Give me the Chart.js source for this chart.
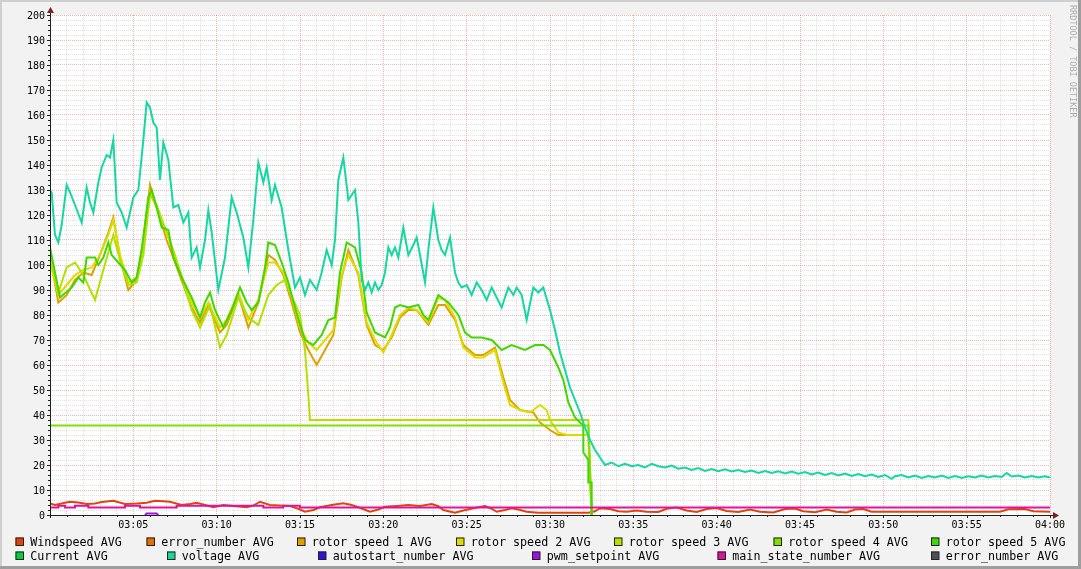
<!DOCTYPE html>
<html>
<head>
<meta charset="utf-8">
<script src="https://cdn.jsdelivr.net/npm/chart.js@4.4.0/dist/chart.umd.min.js"></script>
<style>
html,body{margin:0;padding:0;background:#f2f2f2;}
canvas{display:block;}
</style>
</head>
<body>
<canvas id="c" width="1081" height="569"></canvas>
<script>
// ---- DATA: each series is a list of [minutes after 03:00, value] ----
const xTickMinutes = [5,10,15,20,25,30,35,40,45,50,55,60];
const xTickLabels = ['03:05','03:10','03:15','03:20','03:25','03:30','03:35','03:40','03:45','03:50','03:55','04:00'];
const yTickValues = [0,10,20,30,40,50,60,70,80,90,100,110,120,130,140,150,160,170,180,190,200];
const yTickLabels = ['0','10','20','30','40','50','60','70','80','90','100','110','120','130','140','150','160','170','180','190','200'];

const seriesNames = ['Windspeed AVG','error_number AVG','rotor speed 1 AVG','rotor speed 2 AVG','rotor speed 3 AVG','rotor speed 4 AVG','rotor speed 5 AVG','Current AVG','voltage AVG','autostart_number AVG','pwm_setpoint AVG','main_state_number AVG','error_number AVG'];

const windspeed = [[0,4.6],[0.3,4.0],[0.9,4.9],[1.2,5.3],[1.7,5.0],[2.2,4.4],[2.7,4.6],[3.1,5.2],[3.8,5.7],[4.5,4.4],[5.2,4.6],[5.8,4.9],[6.3,5.7],[6.8,5.5],[7.2,5.3],[7.9,4.0],[8.4,4.4],[8.8,4.9],[9.3,4.0],[9.8,3.1],[10.4,4.0],[11.0,3.6],[11.8,3.1],[12.2,3.8],[12.6,5.3],[13.2,4.0],[13.8,3.8],[14.4,3.6],[14.9,2.5],[15.3,1.3],[15.8,2.0],[16.2,3.1],[16.9,4.0],[17.6,4.7],[18.1,4.0],[18.5,3.1],[19.2,1.3],[19.7,2.2],[20.1,3.3],[20.8,3.6],[21.5,4.0],[22.2,3.6],[22.9,4.4],[23.3,3.5],[23.6,2.0],[24.3,0.9],[24.8,1.8],[25.4,2.7],[26.1,3.6],[26.5,2.5],[26.8,1.3],[27.3,2.0],[27.7,2.7],[28.1,2.2],[28.6,1.3],[29.3,0.9],[32.3,0.9],[32.7,1.5],[33.0,2.7],[33.6,2.4],[34.1,1.5],[34.6,1.3],[35.2,1.8],[35.8,1.3],[36.5,1.2],[37.0,2.5],[37.6,3.0],[38.2,1.8],[38.8,1.2],[39.4,2.4],[40.0,2.8],[40.6,1.6],[41.3,1.2],[42.0,2.2],[42.6,1.3],[43.4,1.0],[44.1,2.4],[44.7,2.6],[45.2,1.5],[45.9,1.1],[46.6,2.2],[47.2,1.3],[47.8,1.0],[48.3,2.2],[48.8,2.4],[49.3,1.3],[57.0,1.3],[57.5,2.3],[58.5,2.4],[59.0,1.5],[60,1.3]];

const errorNumber = [];

const rotor1 = [[0,104],[0.5,85],[1.0,88],[1.5,94],[2.0,97],[2.5,96],[3.0,104],[3.5,113],[3.8,119],[4.2,103],[4.7,90],[5.2,94],[5.6,110],[6.0,132],[6.4,123],[7.0,110],[7.5,101],[8.0,92],[8.5,83],[9.0,77],[9.5,84],[10.2,73],[10.6,76],[11.3,88],[11.9,75],[12.5,85],[13.1,104],[13.5,102],[14.0,96],[14.5,85],[15.0,73],[15.5,66],[16.0,60],[16.5,66],[17.0,72],[17.5,95],[17.9,106],[18.5,96],[19.0,76],[19.5,68],[20.0,66],[20.5,71],[21.0,79],[21.5,82],[22.0,82],[22.7,76],[23.3,84],[23.7,84],[24.3,78],[24.8,68],[25.5,64],[26.0,64],[26.7,67],[27.2,55],[27.6,46],[28.2,42],[29.0,41],[29.4,37],[30.0,34],[30.5,32],[32.3,32],[32.5,0]];

const rotor2 = [[0,101],[0.5,88],[1.0,92],[1.5,96],[2.0,98],[2.5,99],[3.0,104],[3.5,112],[3.8,118],[4.2,104],[4.7,93],[5.2,95],[5.6,108],[6.0,129],[6.4,123],[7.0,113],[7.5,103],[8.0,94],[8.5,85],[9.0,79],[9.5,85],[10.2,75],[10.6,78],[11.3,89],[11.9,78],[12.5,86],[13.1,101],[13.5,101],[14.0,97],[14.5,87],[15.0,75],[15.5,69],[16.0,66],[16.5,70],[17.0,74],[17.5,96],[17.9,104],[18.5,97],[19.0,77],[19.5,70],[20.0,65],[20.5,72],[21.0,80],[21.5,83],[22.0,82],[22.7,77],[23.3,87],[23.7,86],[24.3,79],[24.8,67],[25.5,63],[26.0,63],[26.7,66],[27.2,53],[27.6,44],[28.2,42],[28.8,41],[29.4,44],[29.8,42],[30.0,38],[30.5,33],[31.0,32],[32.3,32],[32.5,0]];

const rotor3 = [[0,103],[0.5,89],[1.0,99],[1.5,101],[2.0,96],[2.7,86],[3.2,98],[3.8,112],[4.2,102],[4.7,92],[5.2,93],[5.6,104],[6.0,128],[6.4,124],[7.0,113],[7.5,104],[8.0,93],[8.5,82],[9.0,75],[9.6,84],[10.2,67],[10.6,72],[11.3,87],[11.9,79],[12.5,76],[13.1,88],[13.6,92],[14.1,94],[14.6,86],[15.0,80],[15.3,66],[15.5,48],[15.6,38],[32.3,38],[32.5,0]];

const rotor4 = [[0,35.8],[32.3,35.8],[32.5,0]];

const rotor5 = [[0,107],[0.6,87],[1.3,91],[1.7,95],[2.0,93],[2.2,103],[2.7,103],[2.9,100],[3.2,103],[3.5,109],[3.7,104],[4.1,101],[4.5,98],[4.9,93],[5.2,95],[5.5,106],[5.9,127],[6.1,130],[6.4,123],[6.7,115],[7.1,114],[7.4,103],[7.9,95],[8.5,87],[9.0,79],[9.3,85],[9.6,89],[9.9,82],[10.4,75],[10.9,82],[11.4,91],[11.8,85],[12.1,82],[12.5,85],[12.9,99],[13.1,109],[13.5,108],[13.9,101],[14.3,93],[14.7,83],[15.1,74],[15.3,70],[15.8,68],[16.3,72],[16.7,78],[17.1,79],[17.4,97],[17.8,109],[18.3,107],[18.7,97],[19.0,81],[19.5,73],[20.1,71],[20.4,75],[20.7,83],[21.0,84],[21.5,83],[22.1,84],[22.4,80],[22.7,78],[23.0,83],[23.3,88],[23.9,85],[24.5,80],[24.9,73],[25.3,71],[25.9,71],[26.5,70],[27.1,66],[27.7,68],[28.5,66],[29.1,68],[29.6,68],[30.0,66],[30.5,59],[30.8,54],[31.1,45],[31.5,39],[31.8,37],[32.0,36],[32.0,25],[32.3,22],[32.3,13],[32.5,13],[32.5,0]];

const current = [];

const voltage = [[0,130],[0.1,129],[0.3,112],[0.5,109],[0.7,116],[1.0,132],[1.2,129],[1.5,124],[1.9,117],[2.2,131],[2.4,125],[2.6,121],[2.9,133],[3.1,139],[3.4,144],[3.6,143],[3.8,150],[4.0,125],[4.3,121],[4.6,115],[5.0,127],[5.3,130],[5.6,150],[5.8,165],[6.0,163],[6.2,157],[6.4,155],[6.6,134],[6.8,149],[7.1,142],[7.4,123],[7.7,124],[8.0,117],[8.3,121],[8.5,103],[8.8,107],[9.0,99],[9.3,110],[9.5,122],[9.7,113],[10.1,90],[10.5,103],[10.9,127],[11.2,121],[11.6,111],[11.9,99],[12.2,118],[12.5,141],[12.8,133],[13.0,139],[13.3,126],[13.5,132],[13.9,123],[14.3,106],[14.7,91],[15.0,95],[15.3,88],[15.6,94],[16.0,90],[16.3,97],[16.6,106],[16.9,100],[17.1,110],[17.3,134],[17.6,143],[17.9,126],[18.3,130],[18.5,117],[18.7,94],[18.9,90],[19.1,93],[19.3,89],[19.5,93],[19.7,90],[19.9,92],[20.1,97],[20.3,107],[20.5,104],[20.7,107],[20.9,103],[21.2,115],[21.5,104],[21.8,108],[22.0,111],[22.2,104],[22.5,93],[22.7,106],[23.0,123],[23.3,110],[23.5,106],[23.7,104],[24.0,111],[24.3,97],[24.5,93],[24.7,91],[25.0,92],[25.3,88],[25.6,93],[25.9,90],[26.2,86],[26.5,91],[26.8,87],[27.1,83],[27.5,91],[27.8,88],[28.0,91],[28.3,88],[28.6,78],[29.0,91],[29.3,89],[29.6,91],[30.0,82],[30.3,74],[30.6,65],[30.9,58],[31.2,51],[31.5,46],[31.8,41],[32.1,35],[32.4,30],[32.7,26],[33.0,23],[33.3,20],[33.7,21],[34.1,19.5],[34.5,20.5],[34.9,19.5],[35.3,20],[35.7,19],[36.1,20.5],[36.5,19.5],[36.9,19],[37.3,19.8],[37.7,18.5],[38.1,19],[38.5,18],[38.9,18.8],[39.3,17.6],[39.7,18.4],[40.1,17.5],[40.5,18.3],[40.9,17.4],[41.3,18],[41.7,17.2],[42.1,17.8],[42.5,16.8],[42.9,17.6],[43.3,16.8],[43.7,17.5],[44.1,16.6],[44.5,17.4],[44.9,16.5],[45.3,17.2],[45.7,16.2],[46.1,17],[46.5,16],[46.9,16.8],[47.3,15.8],[47.7,16.6],[48.1,15.6],[48.5,16.4],[48.9,15.5],[49.3,16.2],[49.7,15.2],[50.1,16],[50.5,14.5],[50.7,15.5],[51.1,16],[51.5,15],[51.9,15.8],[52.3,14.8],[52.7,15.6],[53.1,15],[53.5,15.8],[53.9,14.8],[54.3,15.6],[54.7,14.8],[55.1,15.5],[55.5,15],[55.9,15.8],[56.3,15],[56.7,15.6],[57.1,15.2],[57.4,16.8],[57.7,15.4],[58.1,15.8],[58.5,15],[58.9,15.6],[59.3,15],[59.7,15.5],[60,15]];

const autostartNumber = [];
const pwmSetpoint = [[5.7,0],[5.8,0.6],[6.4,0.6],[6.5,0]];
const mainStateNumber = [[0,3.7],[0.5,3.0],[0.9,3.7],[1.5,3.0],[2.3,3.7],[4.5,3.0],[5.4,3.7],[7.6,3.0],[12.8,3.7],[14.0,3.0],[15.0,3.7],[18.6,3.0],[60,3.0]];
const errorNumber2 = [];

// ---- STYLE ----
const seriesColors = ['#E0440E','#E07010','#E0A000','#DCDC00','#B4E000','#80E000','#40D800','#00D040','#14D8A0','#3010E0','#A010E0','#E010A0','#505050'];
const seriesData = [windspeed,errorNumber,rotor1,rotor2,rotor3,rotor4,rotor5,current,voltage,autostartNumber,pwmSetpoint,mainStateNumber,errorNumber2];
const legendX = [15.5,146.5,297,456,614,773.5,931, 15.5,167,318,532,717.5,931];
const legendRow = [0,0,0,0,0,0,0, 1,1,1,1,1,1];

const MONO = '"DejaVu Sans Mono", "Liberation Mono", monospace';

const datasets = seriesNames.map((name, i) => ({
  label: name,
  data: seriesData[i].map(p => ({x: p[0], y: p[1]})),
  borderColor: seriesColors[i],
  backgroundColor: seriesColors[i],
  borderWidth: 2,
  pointRadius: 0,
  fill: false,
  tension: 0,
  stepped: i === 11 ? 'after' : false,
  order: seriesNames.length - i
}));

const decor = {
  id: 'decor',
  beforeDraw(chart) {
    const {ctx, chartArea: a} = chart;
    ctx.save();
    ctx.fillStyle = '#f2f2f2';
    ctx.fillRect(0, 0, chart.width, chart.height);
    ctx.fillStyle = '#ffffff';
    ctx.fillRect(a.left, a.top, a.right - a.left, a.bottom - a.top);
    ctx.fillStyle = '#cfcfcf';
    ctx.fillRect(0, 0, chart.width, 2);
    ctx.fillRect(0, 0, 2, chart.height);
    ctx.fillStyle = '#9e9e9e';
    ctx.fillRect(chart.width - 3, 0, 3, chart.height);
    ctx.fillRect(0, chart.height - 3, chart.width, 3);
    ctx.restore();
  },
  afterDatasetsDraw(chart) {
    const {ctx, chartArea: a, scales} = chart;
    const xs = scales.x, ys = scales.y;
    ctx.save();
    ctx.strokeStyle = '#1f1f1f';
    ctx.lineWidth = 1;
    ctx.beginPath();
    for (let m = 0; m <= 60; m++) {
      const px = Math.round(xs.getPixelForValue(m)) + 0.5;
      ctx.moveTo(px, a.bottom);
      ctx.lineTo(px, a.bottom + (m % 5 === 0 ? 3 : 2));
    }
    for (let v = 0; v <= 200; v += 2) {
      const py = Math.round(ys.getPixelForValue(v)) + 0.5;
      ctx.moveTo(a.left - (v % 10 === 0 ? 3 : 2), py);
      ctx.lineTo(a.left, py);
    }
    ctx.stroke();
    ctx.beginPath();
    ctx.moveTo(a.left + 0.5, a.bottom + 3);
    ctx.lineTo(a.left + 0.5, a.top - 3);
    ctx.moveTo(a.left - 3, a.bottom + 0.5);
    ctx.lineTo(a.right + 3, a.bottom + 0.5);
    ctx.stroke();
    ctx.fillStyle = '#801f1f';
    ctx.beginPath();
    ctx.moveTo(a.left - 3, a.top - 2);
    ctx.lineTo(a.left + 4, a.top - 2);
    ctx.lineTo(a.left + 0.5, a.top - 8);
    ctx.closePath();
    ctx.fill();
    ctx.beginPath();
    ctx.moveTo(a.right + 3, a.bottom - 3);
    ctx.lineTo(a.right + 3, a.bottom + 4);
    ctx.lineTo(a.right + 9, a.bottom + 0.5);
    ctx.closePath();
    ctx.fill();
    ctx.fillStyle = '#000';
    ctx.font = '10px ' + MONO;
    ctx.textAlign = 'right';
    ctx.textBaseline = 'alphabetic';
    yTickValues.forEach((v, i) => {
      ctx.fillText(yTickLabels[i], a.left - 5, ys.getPixelForValue(v) + 3.5);
    });
    ctx.textAlign = 'center';
    xTickMinutes.forEach((m, i) => {
      ctx.fillText(xTickLabels[i], xs.getPixelForValue(m), a.bottom + 12.5);
    });
    ctx.font = '11.7px ' + MONO;
    ctx.textAlign = 'left';
    chart.data.datasets.forEach((ds, i) => {
      const x = legendX[i];
      const top = legendRow[i] === 0 ? 537.5 : 551.5;
      ctx.fillStyle = ds.borderColor;
      ctx.fillRect(x, top, 8, 8);
      ctx.strokeStyle = '#222';
      ctx.lineWidth = 1;
      ctx.strokeRect(x + 0.5, top + 0.5, 7.5, 7.5);
      ctx.fillStyle = '#000';
      ctx.fillText(ds.label, x + 14.8, top + 8);
    });
    ctx.save();
    ctx.translate(1069.5, 5);
    ctx.rotate(Math.PI / 2);
    ctx.font = '8.5px ' + MONO;
    ctx.fillStyle = 'rgba(0,0,0,0.3)';
    ctx.textAlign = 'left';
    ctx.fillText('RRDTOOL / TOBI OETIKER', 0, 0);
    ctx.restore();
    ctx.restore();
  }
};

const MINOR = 'rgba(143,143,143,0.26)';
const MAJOR = 'rgba(222,79,79,0.42)';

new Chart(document.getElementById('c'), {
  type: 'line',
  data: {datasets},
  options: {
    responsive: false,
    animation: false,
    layout: {padding: {left: 50, top: 15, right: 31, bottom: 54}},
    plugins: {legend: {display: false}, tooltip: {enabled: false}},
    scales: {
      x: {
        type: 'linear', min: 0, max: 60,
        afterFit(s) { s.height = 0; },
        ticks: {display: false, stepSize: 1, autoSkip: false},
        grid: {drawTicks: false, lineWidth: 1, color: c => (c.tick && c.tick.value % 5 === 0) ? MAJOR : MINOR},
        border: {display: false, dash: [1, 1]}
      },
      y: {
        type: 'linear', min: 0, max: 200,
        afterFit(s) { s.width = 0; },
        ticks: {display: false, stepSize: 2, autoSkip: false},
        grid: {drawTicks: false, lineWidth: 1, color: c => (c.tick && c.tick.value % 10 === 0) ? MAJOR : MINOR},
        border: {display: false, dash: [1, 1]}
      }
    }
  },
  plugins: [decor]
});
</script>
</body>
</html>
